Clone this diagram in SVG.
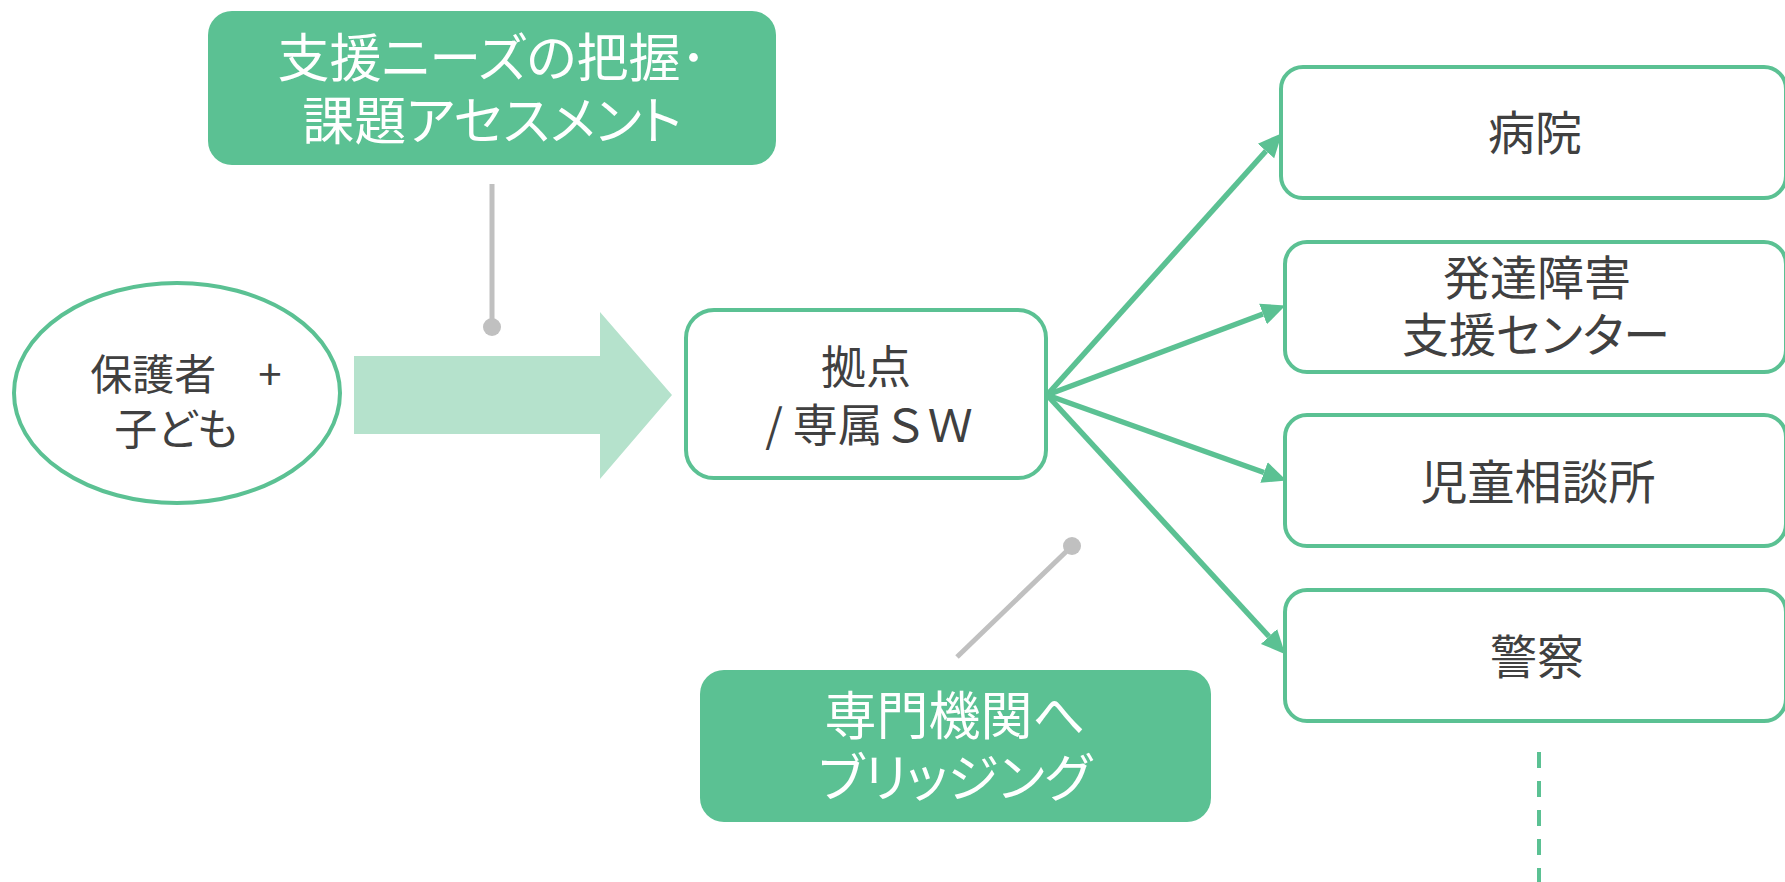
<svg xmlns="http://www.w3.org/2000/svg" width="1785" height="882" viewBox="0 0 1785 882">
<defs>
<style>
.t{font-family:"Noto Sans CJK JP","Noto Sans",sans-serif;fill:#404040;text-anchor:middle;font-feature-settings:"palt"}
.np{font-feature-settings:normal}
.w{font-family:"Noto Sans CJK JP","Noto Sans",sans-serif;fill:#ffffff;text-anchor:middle;font-size:52px;font-feature-settings:"palt"}
.box{fill:#ffffff;stroke:#5bc193;stroke-width:4}
.gbox{fill:#5bc193}
.con{stroke:#5bc193;stroke-width:5.5;fill:none}
.lead{stroke:#c0c0c0;stroke-width:5;fill:none}
</style>
<marker id="ah" viewBox="0 -12 24 24" refX="0" refY="0" markerWidth="24" markerHeight="24" markerUnits="userSpaceOnUse" orient="auto">
<path d="M0,-11 L24,0 L0,11 z" fill="#5bc193"/>
</marker>
</defs>
<rect width="1785" height="882" fill="#ffffff"/>

<g id="assessment">
<rect class="gbox" x="208" y="11" width="568" height="154" rx="24"/>
<text class="w" x="492" y="77">支援ニーズの把握･</text>
<text class="w" x="492" y="140" font-size="51">課題アセスメント</text>
</g>

<g id="bridging">
<rect class="gbox" x="700" y="670" width="511" height="152" rx="24"/>
<text class="w" x="955" y="735" font-size="51">専門機関へ</text>
<text class="w" x="955" y="797" font-size="51">ブリッジング</text>
</g>

<g id="client">
<ellipse cx="177" cy="393" rx="163" ry="110" fill="#ffffff" stroke="#5bc193" stroke-width="4"/>
<text class="t np" x="186" y="390" font-size="42">保護者　+</text>
<text class="t" x="176" y="445" font-size="43">子ども</text>
</g>

<g id="bigarrow">
<path d="M354,356 L600,356 L600,312 L672,395 L600,479 L600,434 L354,434 z" fill="#b5e2cc"/>
</g>

<g id="hub">
<rect class="box" x="686" y="310" width="360" height="168" rx="28"/>
<text class="t np" x="866" y="384" font-size="45">拠点</text>
<text class="t np" x="869" y="442" font-size="45">/ 専属ＳＷ</text>
</g>

<g id="hospital">
<rect class="box" x="1281" y="67" width="505" height="131" rx="22"/>
<text class="t" x="1535" y="150" font-size="47">病院</text>
</g>
<g id="devcenter">
<rect class="box" x="1285" y="242" width="501" height="130" rx="22"/>
<text class="t" x="1537" y="295" font-size="47">発達障害</text>
<text class="t" x="1536" y="352" font-size="47">支援センター</text>
</g>
<g id="childguidance">
<rect class="box" x="1285" y="415" width="501" height="131" rx="22"/>
<text class="t" x="1538" y="499" font-size="47">児童相談所</text>
</g>
<g id="police">
<rect class="box" x="1285" y="590" width="501" height="131" rx="22"/>
<text class="t" x="1537" y="674" font-size="47">警察</text>
</g>

<g id="connectors">
<line class="con" x1="1047" y1="395" x2="1266" y2="151" marker-end="url(#ah)"/>
<line class="con" x1="1047" y1="395" x2="1263" y2="314" marker-end="url(#ah)"/>
<line class="con" x1="1047" y1="395" x2="1264" y2="472.5" marker-end="url(#ah)"/>
<line class="con" x1="1047" y1="395" x2="1269" y2="636.5" marker-end="url(#ah)"/>
<line class="lead" x1="492" y1="184" x2="492" y2="327"/>
<circle cx="492" cy="327" r="9" fill="#c0c0c0"/>
<line class="lead" x1="957" y1="657" x2="1072" y2="546"/>
<circle cx="1072" cy="546" r="9" fill="#c0c0c0"/>
<line x1="1539" y1="752" x2="1539" y2="882" stroke="#5bc193" stroke-width="4" stroke-dasharray="16 13"/>
</g>
</svg>
